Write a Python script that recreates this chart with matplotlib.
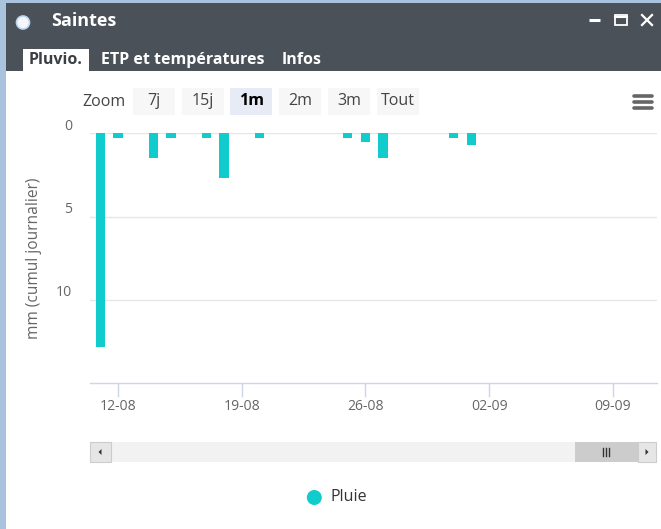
import matplotlib
matplotlib.use("Agg")
import matplotlib.pyplot as plt
import matplotlib.dates as mdates
from matplotlib.patches import Rectangle, Circle, Polygon
from matplotlib.transforms import ScaledTranslation
import datetime as dt

# ---------------- data ----------------
dates = ["2019-08-11", "2019-08-12", "2019-08-14", "2019-08-15", "2019-08-17",
         "2019-08-18", "2019-08-20", "2019-08-25", "2019-08-26", "2019-08-27",
         "2019-08-31", "2019-09-01"]
pluie = [12.8, 0.3, 1.5, 0.3, 0.3, 2.7, 0.3, 0.3, 0.5, 1.5, 0.3, 0.7]
y_ticks = [0, 5, 10]
zoom_buttons = ["7j", "15j", "1m", "2m", "3m", "Tout"]
tabs = ["Pluvio.", "ETP et températures", "Infos"]
title = "Saintes"
series_name = "Pluie"
y_label = "mm (cumul journalier)"

FONT = ["Open Sans", "DejaVu Sans"]
plt.rcParams["font.family"] = FONT

W, H = 661, 529
fig = plt.figure(figsize=(W / 100, H / 100), dpi=100)
fig.patch.set_facecolor("white")

def pt(px):
    return px * 0.72

# background / decoration axes in pixel coordinates (origin top-left)
bg = fig.add_axes([0, 0, 1, 1], zorder=0)
bg.set_xlim(0, W)
bg.set_ylim(H, 0)
bg.axis("off")

border_c = "#a9c2de"
dark = "#4b5158"
bg.add_patch(Rectangle((0, 0), W, 3, color=border_c, lw=0))
bg.add_patch(Rectangle((0, 0), 6, H, color=border_c, lw=0))
bg.add_patch(Rectangle((6, 3), W - 6, 68, color=dark, lw=0))

# title
bg.add_patch(Circle((23, 22.5), 6.5, facecolor="#f4f8fc", edgecolor="#bcd6ee", lw=1.2))
bg.text(51, 21.5, title, color="white", fontsize=pt(18), fontweight="bold",
        va="center", ha="left")
# window controls
bg.plot([589, 600], [20, 20], color="white", lw=2.2, solid_capstyle="butt")
bg.add_patch(Rectangle((614.5, 15), 12.5, 10, facecolor="none", edgecolor="white", lw=1.3))
bg.plot([614.5, 627], [16.5, 16.5], color="white", lw=1.5)
bg.plot([642, 652], [15, 25], color="white", lw=1.6)
bg.plot([642, 652], [25, 15], color="white", lw=1.6)

# tabs
bg.add_patch(Rectangle((23, 49), 66, 22, color="white", lw=0))
tab_x = [29, 101, 282]
for i, (t, xx) in enumerate(zip(tabs, tab_x)):
    bg.text(xx, 60.5, t, color="#3a3f44" if i == 0 else "white",
            fontsize=pt(16), fontweight="bold", va="center", ha="left")

# zoom buttons
bg.text(82, 101.5, "Zoom", color="#444444", fontsize=pt(16), va="center", ha="left")
bx0 = 132.7
bstep = 48.8
for i, lab in enumerate(zoom_buttons):
    xx = bx0 + i * bstep
    sel = (lab == "1m")
    bg.add_patch(Rectangle((xx, 88), 42, 27, color="#e6ebf5" if sel else "#f7f7f7", lw=0))
    bg.text(xx + 21, 101, lab, color="#000000" if sel else "#444444",
            fontsize=pt(16), fontweight="bold" if sel else "normal",
            va="center", ha="center")

# hamburger menu
for yy in [96, 102, 108]:
    bg.plot([634, 652], [yy, yy], color="#666666", lw=2.6, solid_capstyle="round")

# scrollbar
bg.add_patch(Rectangle((90, 442), 566, 20, color="#f2f2f2", lw=0))
bg.add_patch(Rectangle((90, 442), 20.5, 20, facecolor="#e6e6e6", edgecolor="#cccccc", lw=0.8))
bg.add_patch(Rectangle((574.5, 442), 63, 20, color="#cccccc", lw=0))
bg.add_patch(Rectangle((637.5, 442), 18.5, 20, facecolor="#e6e6e6", edgecolor="#cccccc", lw=0.8))
bg.add_patch(Polygon([[101.5, 449], [101.5, 455], [98.5, 452]], closed=True, color="#333333", lw=0))
bg.add_patch(Polygon([[645.5, 449], [645.5, 455], [648.5, 452]], closed=True, color="#333333", lw=0))
for xx in [602.5, 605.5, 608.5]:
    bg.plot([xx, xx], [448, 456], color="#333333", lw=1.0)

# legend
bar_color = "#11cccc"
bg.add_patch(Circle((314.3, 497.5), 7.5, color=bar_color, lw=0))
bg.text(330.5, 497, series_name, color="#333333", fontsize=pt(16), va="center", ha="left")

# ---------------- main chart ----------------
L, R, T, B = 90, 657, 133.3, 383.3
ax = fig.add_axes([L / W, (H - B) / H, (R - L) / W, (B - T) / H], zorder=1)
ax.set_facecolor("none")

x = mdates.date2num([dt.datetime.strptime(d, "%Y-%m-%d") for d in dates])
ax.bar(x, pluie, width=0.53, color=bar_color, edgecolor="none", zorder=3)

x0 = mdates.date2num(dt.datetime(2019, 8, 11))
ax.set_xlim(x0 - 0.58, x0 + 31.5)
ax.set_ylim(15, 0)

for s in ["top", "right", "left"]:
    ax.spines[s].set_visible(False)
ax.spines["bottom"].set_color("#ccd6eb")
ax.spines["bottom"].set_linewidth(1)

ax.xaxis.set_major_locator(mdates.WeekdayLocator(byweekday=mdates.MO))
ax.xaxis.set_major_formatter(mdates.DateFormatter("%d-%m"))
ax.tick_params(axis="x", direction="out", length=10, width=1, color="#ccd6eb",
               labelcolor="#666666", labelsize=pt(14), pad=1)

ax.set_yticks(y_ticks)
ax.set_yticklabels([])
ax.tick_params(axis="y", length=0)
ax.grid(axis="y", color="#e6e6e6", lw=1, zorder=0)
ax.set_axisbelow(True)

off = ScaledTranslation(-18 / 100, 7 / 100, fig.dpi_scale_trans)
for v in y_ticks:
    ax.text(0, v, str(v), transform=ax.get_yaxis_transform() + off,
            ha="right", va="center", color="#666666", fontsize=pt(14))

bg.text(34, 258, y_label, rotation=90, color="#666666", fontsize=pt(15.5),
        va="center", ha="center")

fig.savefig("out.png", dpi=100)
